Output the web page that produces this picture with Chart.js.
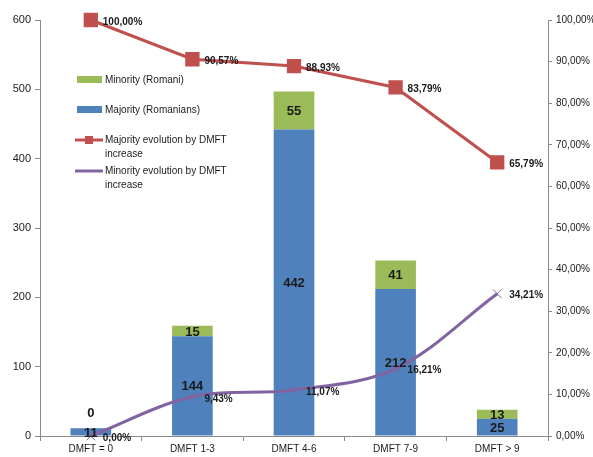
<!DOCTYPE html>
<html lang="en">
<head>
    <meta charset="UTF-8">
    <title>DMFT Majority / Minority</title>
    <script src="https://cdn.jsdelivr.net/npm/chart.js"></script>
    <style>
        body { margin: 0; background: #fff; }
        canvas { display: block; }
    </style>
</head>
<body>
    <canvas id="myChart" width="593" height="457"></canvas>

    <script>
        // chart data
        const categories = ['DMFT = 0', 'DMFT 1-3', 'DMFT 4-6', 'DMFT 7-9', 'DMFT > 9'];
        const majority = [11, 144, 442, 212, 25];
        const minority = [0, 15, 55, 41, 13];
        const majorityPct = [100, 90.57, 88.93, 83.79, 65.79];
        const minorityPct = [0, 9.43, 11.07, 16.21, 34.21];

        const FONT = '"Liberation Sans", Arial, sans-serif';
        const pct = v => v.toFixed(2).replace('.', ',') + '%';

        // value labels drawn on top of bars and lines
        const labelPlugin = {
            id: 'valueLabels',
            afterDatasetsDraw(chart) {
                const ctx = chart.ctx;
                ctx.save();
                ctx.fillStyle = '#1a1a1a';
                chart.data.datasets.forEach((ds, i) => {
                    const meta = chart.getDatasetMeta(i);
                    meta.data.forEach((el, j) => {
                        const v = ds.data[j];
                        if (ds.type === 'bar') {
                            ctx.font = 'bold 13px ' + FONT;
                            ctx.textAlign = 'center';
                            ctx.textBaseline = 'middle';
                            let y = (el.y + el.base) / 2;
                            if (v === 0) y = el.y - 16;
                            ctx.fillText(String(v), el.x, y + 1);
                        } else {
                            ctx.font = 'bold 10px ' + FONT;
                            ctx.textAlign = 'left';
                            ctx.textBaseline = 'middle';
                            ctx.fillText(pct(v), el.x + 12, el.y + 2);
                        }
                    });
                });
                ctx.restore();
            }
        };

        // legend floating inside the plot
        const legendPlugin = {
            id: 'innerLegend',
            afterDraw(chart) {
                const ctx = chart.ctx;
                ctx.save();
                ctx.font = '10px ' + FONT;
                ctx.textAlign = 'left';
                ctx.textBaseline = 'middle';
                ctx.fillStyle = '#9BBB59';
                ctx.fillRect(77, 76, 25, 7);
                ctx.fillStyle = '#4F81BD';
                ctx.fillRect(77, 106, 25, 7);
                ctx.fillStyle = '#1a1a1a';
                ctx.fillText('Minority (Romani)', 105, 80);
                ctx.fillText('Majority (Romanians)', 105, 110);
                ctx.fillText('Majority evolution by DMFT', 105, 140);
                ctx.fillText('increase', 105, 154);
                ctx.fillText('Minority evolution by DMFT', 105, 171);
                ctx.fillText('increase', 105, 185);
                // line samples
                ctx.lineWidth = 3;
                ctx.strokeStyle = '#C0504D';
                ctx.beginPath(); ctx.moveTo(75, 140); ctx.lineTo(103, 140); ctx.stroke();
                ctx.fillStyle = '#C0504D';
                ctx.fillRect(85, 136, 8, 8);
                ctx.strokeStyle = '#8064A2';
                ctx.beginPath(); ctx.moveTo(75, 171); ctx.lineTo(103, 171); ctx.stroke();
                ctx.restore();
            }
        };

        const axisColor = '#8c8c8c';
        const tickFont = { family: FONT, size: 10 };

        const ctx = document.getElementById('myChart').getContext('2d');
        const myChart = new Chart(ctx, {
            type: 'bar',
            data: {
                labels: categories,
                datasets: [
                    {
                        type: 'line',
                        label: 'Majority evolution by DMFT increase',
                        data: majorityPct,
                        yAxisID: 'y2',
                        borderColor: '#C0504D',
                        backgroundColor: '#C0504D',
                        borderWidth: 3,
                        pointStyle: 'rect',
                        pointRadius: 8,
                        tension: 0,
                        clip: false,
                        order: 0
                    },
                    {
                        type: 'line',
                        label: 'Minority evolution by DMFT increase',
                        data: minorityPct,
                        yAxisID: 'y2',
                        borderColor: '#8064A2',
                        backgroundColor: '#8064A2',
                        borderWidth: 3,
                        pointStyle: 'crossRot',
                        pointRadius: 6,
                        pointBorderWidth: 1,
                        tension: 0.35,
                        clip: false,
                        order: 0
                    },
                    {
                        type: 'bar',
                        label: 'Majority (Romanians)',
                        data: majority,
                        yAxisID: 'y',
                        backgroundColor: '#4F81BD',
                        stack: 's',
                        barPercentage: 0.4,
                        categoryPercentage: 1,
                        order: 1
                    },
                    {
                        type: 'bar',
                        label: 'Minority (Romani)',
                        data: minority,
                        yAxisID: 'y',
                        backgroundColor: '#9BBB59',
                        stack: 's',
                        barPercentage: 0.4,
                        categoryPercentage: 1,
                        order: 1
                    }
                ]
            },
            options: {
                responsive: false,
                animation: false,
                layout: { padding: { top: 20, left: 0, right: 0, bottom: 0 } },
                plugins: {
                    legend: { display: false },
                    tooltip: { enabled: false }
                },
                scales: {
                    x: {
                        stacked: true,
                        offset: true,
                        grid: { display: true, drawOnChartArea: false, offset: true, tickLength: 5, color: axisColor },
                        border: { color: axisColor },
                        ticks: { font: tickFont, color: '#1a1a1a', padding: 2, maxRotation: 0 },
                        afterFit: s => { s.height = 21; }
                    },
                    y: {
                        stacked: true,
                        position: 'left',
                        min: 0,
                        max: 600,
                        ticks: { stepSize: 100, font: { family: FONT, size: 11 }, color: '#1a1a1a', padding: 4 },
                        grid: { display: true, drawOnChartArea: false, tickLength: 5, color: axisColor },
                        border: { color: axisColor },
                        afterFit: s => { s.width = 40; }
                    },
                    y2: {
                        position: 'right',
                        min: 0,
                        max: 100,
                        ticks: { stepSize: 10, font: tickFont, color: '#1a1a1a', padding: 4, callback: v => pct(v) },
                        grid: { display: true, drawOnChartArea: false, tickLength: 4, color: axisColor },
                        border: { color: axisColor },
                        afterFit: s => { s.width = 45; }
                    }
                }
            },
            plugins: [labelPlugin, legendPlugin]
        });
    </script>
</body>
</html>
